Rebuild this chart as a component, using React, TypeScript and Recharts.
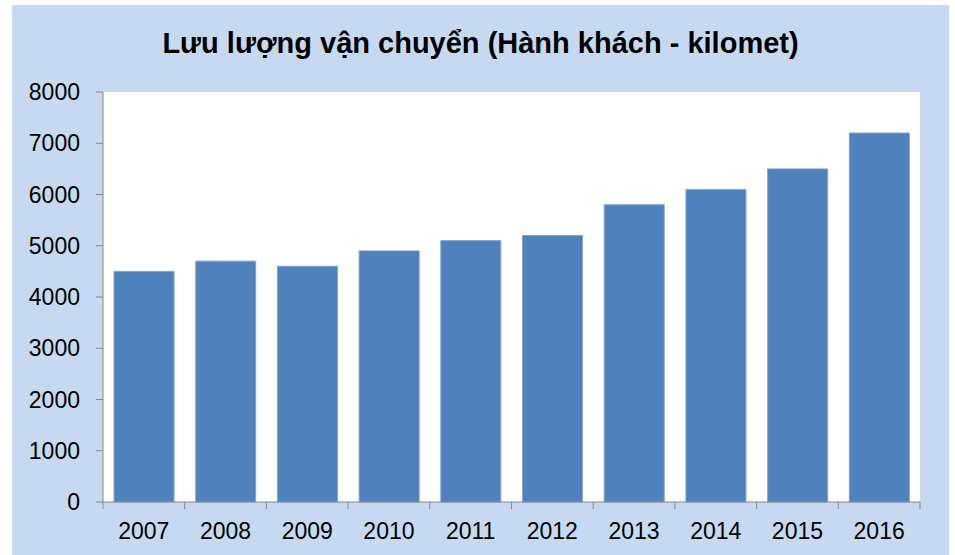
import React from 'react';
import { BarChart, Bar, XAxis, YAxis, CartesianGrid } from 'recharts';

const years = ['2007', '2008', '2009', '2010', '2011', '2012', '2013', '2014', '2015', '2016'];
const passengerKm = [4500, 4700, 4600, 4900, 5100, 5200, 5800, 6100, 6500, 7200];
const yTicks = [0, 1000, 2000, 3000, 4000, 5000, 6000, 7000, 8000];
const title = 'Lưu lượng vận chuyển (Hành khách - kilomet)';

const data = years.map((year, i) => ({ year, value: passengerKm[i] }));

const FONT = '"Liberation Sans", Arial, sans-serif';
const AXIS = '#868686';

// category ticks sit on the band edges, not the centres
function YearTick(props: any) {
  const { x, y, payload, index } = props;
  const half = payload?.offset ?? 0;
  const last = index === years.length - 1;
  return (
    <g>
      <line x1={x - half} x2={x - half} y1={y} y2={y + 7} stroke={AXIS} />
      {last && <line x1={x + half} x2={x + half} y1={y} y2={y + 7} stroke={AXIS} />}
      <text x={x} y={y + 37} textAnchor="middle" fontSize={23} fill="#000" fontFamily={FONT}>
        {payload.value}
      </text>
    </g>
  );
}

export default function App() {
  return (
    <div
      style={{
        position: 'absolute',
        left: 12,
        top: 5,
        width: 937,
        height: 550,
        background: '#c6d9f0',
        fontFamily: FONT,
      }}
    >
      <div
        style={{
          position: 'absolute',
          top: 24,
          left: 0,
          width: 937,
          textAlign: 'center',
          fontSize: 29,
          lineHeight: '29px',
          fontWeight: 'bold',
          color: '#000',
        }}
      >
        {title}
      </div>
      <BarChart
        width={937}
        height={550}
        data={data}
        margin={{ top: 87, right: 29, left: 0, bottom: 0 }}
        barCategoryGap="13.5%"
      >
        <CartesianGrid horizontal={false} vertical={false} fill="#ffffff" />
        <XAxis
          dataKey="year"
          height={53}
          stroke={AXIS}
          tickLine={false}
          tickSize={0}
          tickMargin={0}
          tick={<YearTick />}
          interval={0}
        />
        <YAxis
          width={91}
          domain={[0, 8000]}
          ticks={yTicks}
          interval={0}
          stroke={AXIS}
          tickSize={7}
          tickMargin={16}
          tick={{ fontSize: 23, fill: '#000', fontFamily: FONT }}
        />
        <Bar dataKey="value" fill="#4f81bd" stroke="#7fa3d1" strokeWidth={1} isAnimationActive={false} />
      </BarChart>
    </div>
  );
}
